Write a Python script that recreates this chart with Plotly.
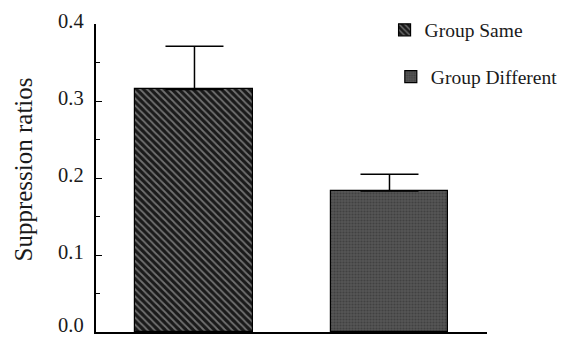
import plotly.graph_objects as go

categories = ["Group Same", "Group Different"]
means = [0.315, 0.183]
errors_up = [0.056, 0.022]
y_ticks = [0.0, 0.1, 0.2, 0.3, 0.4]
y_tick_labels = ["0.0", "0.1", "0.2", "0.3", "0.4"]
y_title = "Suppression ratios"

FONT = "Liberation Serif, Times New Roman, serif"
TXT = "#1a1a1a"

fig = go.Figure()
fig.add_trace(go.Bar(
    x=[0], y=[means[0]], name=categories[0], width=0.605,
    marker=dict(color="#222222", line=dict(color="black", width=1.2),
                pattern=dict(shape="\\", fgcolor="#c8c8c8", bgcolor="#1a1a1a",
                             size=5, solidity=0.35)),
    error_y=dict(type="data", symmetric=False, array=[errors_up[0]], arrayminus=[0],
                 color="black", thickness=1.5, width=29),
    legend="legend",
))
fig.add_trace(go.Bar(
    x=[1], y=[means[1]], name=categories[1], width=0.605,
    marker=dict(color="#4a4a4a", line=dict(color="black", width=1.2),
                pattern=dict(shape=".", fgcolor="#2e2e2e", bgcolor="#555555",
                             size=3, solidity=0.4)),
    error_y=dict(type="data", symmetric=False, array=[errors_up[1]], arrayminus=[0],
                 color="black", thickness=1.5, width=29),
    legend="legend2",
))

annotations = [dict(text=y_title, xref="paper", yref="paper", x=0, y=0.5,
                    xanchor="center", yanchor="middle", textangle=-90,
                    xshift=-73.5, yshift=8, showarrow=False,
                    font=dict(size=25, family=FONT, color=TXT))]
for val, lab in zip(y_ticks, y_tick_labels):
    # lowest label is lifted a little so it stays inside the window
    annotations.append(dict(text=lab, xref="paper", yref="y", x=0, y=val,
                            xanchor="right", yanchor="middle", xshift=-10,
                            yshift=7 if val == y_ticks[0] else 3,
                            showarrow=False, font=dict(size=20.5, family=FONT, color=TXT)))

fig.update_layout(
    width=567, height=337,
    margin=dict(l=88, r=88, t=16, b=13, autoexpand=False),
    paper_bgcolor="white", plot_bgcolor="white",
    font=dict(family=FONT, size=21, color=TXT),
    bargap=0,
    legend=dict(x=0.738, y=0.98, xanchor="left", yanchor="middle",
                bgcolor="rgba(0,0,0,0)", font=dict(size=19.5)),
    legend2=dict(x=0.754, y=0.828, xanchor="left", yanchor="middle",
                 bgcolor="rgba(0,0,0,0)", font=dict(size=19.5)),
    showlegend=True,
    annotations=annotations,
)
fig.update_xaxes(range=[-0.505, 1.5], showline=True, linecolor="black", linewidth=1.5,
                 showticklabels=False, ticks="", showgrid=False, zeroline=False,
                 fixedrange=True)
fig.update_yaxes(range=[0, 0.4], showline=True, linecolor="black", linewidth=1.5,
                 tickvals=y_ticks, showticklabels=False, ticks="inside",
                 ticklen=6, tickwidth=1.2, tickcolor="black",
                 minor=dict(ticks="inside", dtick=0.05, ticklen=4, tickwidth=1, tickcolor="black"),
                 showgrid=False, zeroline=False,
                 fixedrange=True)

fig.write_html("out.html")
